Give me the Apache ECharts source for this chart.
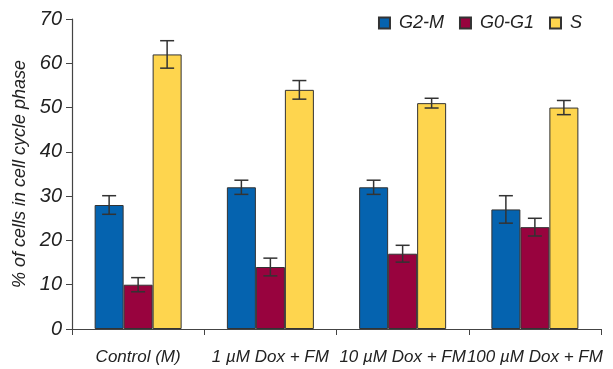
<!DOCTYPE html>
<html><head><meta charset="utf-8">
<script src="https://cdn.jsdelivr.net/npm/echarts@6/dist/echarts.min.js"></script>
<style>html,body{margin:0;padding:0;background:#fff}#c{width:613px;height:369px}</style>
</head><body><div id="c"></div>
<script>
const categories = ['Control (M)', '1 \u00b5M Dox + FM', '10 \u00b5M Dox + FM', '100 \u00b5M Dox + FM'];
const seriesNames = ['G2-M', 'G0-G1', 'S'];
const g2m = [28, 32, 32, 27];
const g0g1 = [10, 14, 17, 23];
const sPhase = [62, 54, 51, 50];
const g2mErr = [2.1, 1.6, 1.6, 3.1];
const g0g1Err = [1.6, 2.0, 1.9, 2.0];
const sErr = [3.1, 2.1, 1.1, 1.6];
const yTicks = [0, 10, 20, 30, 40, 50, 60, 70];

const colors = ['#0563AF', '#98033E', '#FED54E'];
const values = [g2m, g0g1, sPhase];
const errs = [g2mErr, g0g1Err, sErr];
const BW = 29;
const font = '"Liberation Sans", Arial, sans-serif';

const errData = [];
values.forEach((vals, si) => vals.forEach((v, ci) => errData.push([ci, v - errs[si][ci], v + errs[si][ci], si])));

const chart = echarts.init(document.getElementById('c'));
chart.setOption({
  animation: false,
  textStyle: {fontFamily: font},
  legend: {
    right: 26, top: 9, itemWidth: 11, itemHeight: 11, itemGap: 15,
    icon: 'rect',
    textStyle: {fontFamily: font, fontStyle: 'italic', fontSize: 18, color: '#222', padding: [0, 0, 0, 4]},
    data: seriesNames
  },
  grid: {left: 72, right: 12, top: 19, bottom: 40, containLabel: false},
  xAxis: {
    type: 'category', data: categories,
    axisLine: {lineStyle: {color: '#444', width: 1.2}},
    axisTick: {show: true, length: 6, lineStyle: {color: '#444'}},
    axisLabel: {margin: 20, fontFamily: font, fontStyle: 'italic', fontSize: 17, color: '#222', interval: 0}
  },
  yAxis: {
    type: 'value', min: 0, max: 70, interval: 10,
    name: '% of cells in cell cycle phase', nameLocation: 'middle', nameGap: 40,
    nameTextStyle: {fontFamily: font, fontStyle: 'italic', fontSize: 18, color: '#222'},
    axisLine: {show: true, lineStyle: {color: '#444', width: 1.2}},
    axisTick: {show: true, length: 6, lineStyle: {color: '#444'}},
    axisLabel: {margin: 10, fontFamily: font, fontStyle: 'italic', fontSize: 20, color: '#222',
      formatter: v => yTicks.includes(v) ? String(v) : ''},
    splitLine: {show: false}
  },
  series: seriesNames.map((n, i) => ({
    name: n, type: 'bar', data: values[i], barWidth: BW, barGap: '0%',
    itemStyle: {color: colors[i], borderColor: '#333', borderWidth: 1}
  })).concat([{
    type: 'custom', name: 'err', data: errData, z: 10, silent: true,
    encode: {x: 0, y: [1, 2]},
    renderItem: function (params, api) {
      const ci = api.value(0), si = api.value(3);
      const lo = api.coord([ci, api.value(1)]);
      const hi = api.coord([ci, api.value(2)]);
      const x = lo[0] + (si - 1) * BW;
      const hw = 7;
      const st = {stroke: '#333', lineWidth: 1.5};
      return {type: 'group', children: [
        {type: 'line', shape: {x1: x, y1: lo[1], x2: x, y2: hi[1]}, style: st},
        {type: 'line', shape: {x1: x - hw, y1: lo[1], x2: x + hw, y2: lo[1]}, style: st},
        {type: 'line', shape: {x1: x - hw, y1: hi[1], x2: x + hw, y2: hi[1]}, style: st}
      ]};
    }
  }])
});
</script></body></html>
